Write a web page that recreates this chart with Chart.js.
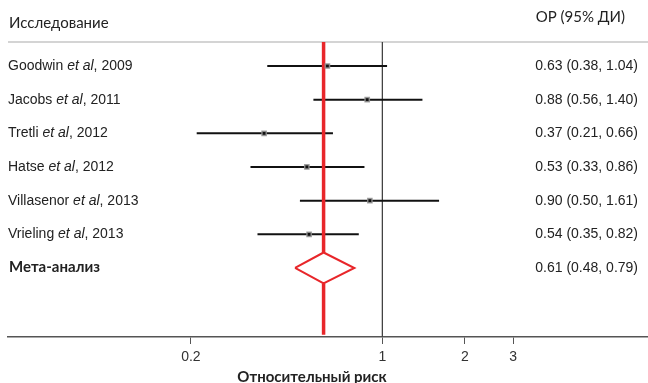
<!DOCTYPE html>
<html>
<head>
<meta charset="utf-8">
<script src="https://cdn.jsdelivr.net/npm/chart.js@4.4.1/dist/chart.umd.min.js"></script>
<style>
  html, body { margin: 0; padding: 0; background: #fff; }
  #wrap { width: 648px; height: 383px; position: relative; }
</style>
</head>
<body>
<div id="wrap"><canvas id="forest"></canvas></div>
<script>
// ================================
//          DATA
// ================================
const authors = ["Goodwin", "Jacobs", "Tretli", "Hatse", "Villasenor", "Vrieling"];
const years = [2009, 2011, 2012, 2012, 2013, 2013];
const rr = [0.63, 0.88, 0.37, 0.53, 0.90, 0.54];
const lower = [0.38, 0.56, 0.21, 0.33, 0.50, 0.35];
const upper = [1.04, 1.40, 0.66, 0.86, 1.61, 0.82];

const metaLabel = "Мета-анализ";
const metaRR = 0.61;
const metaLower = 0.48;
const metaUpper = 0.79;

const xTicks = [0.2, 1, 2, 3];

const headerLeft = "Исследование";
const headerRight = "ОР (95% ДИ)";
const xTitle = "Относительный риск";

// ================================
//          LAYOUT HELPERS
// ================================
const metaRow = authors.length;   // row index of the pooled estimate
const yTop = -0.713;
const yBottom = 8.05;
const diamondHalf = 0.46;
const red = "#e8262a";

const fmt = (v) => v.toFixed(2);

// CI lines, one dataset per study
const ciSets = authors.map((a, i) => ({
  type: "scatter",
  showLine: true,
  data: [{ x: lower[i], y: i }, { x: upper[i], y: i }],
  borderColor: "#111",
  borderWidth: 2,
  pointRadius: 0,
  order: 5,
}));

// ================================
//          TEXT PLUGIN
// ================================
const forestText = {
  id: "forestText",
  beforeDatasetsDraw(chart) {
    const { ctx, chartArea } = chart;
    ctx.save();
    ctx.strokeStyle = "#d4d4d4";
    ctx.lineWidth = 2;
    ctx.beginPath();
    ctx.moveTo(8, chartArea.top);
    ctx.lineTo(chart.width, chartArea.top);
    ctx.stroke();
    ctx.restore();
  },
  afterDraw(chart) {
    const { ctx } = chart;
    const y = chart.scales.y;
    ctx.save();
    ctx.fillStyle = "#222";
    ctx.textBaseline = "middle";

    // headers
    ctx.font = "15px Lato, 'Open Sans', sans-serif";
    ctx.textAlign = "left";
    ctx.fillText(headerLeft, 9, 23);
    ctx.textAlign = "right";
    ctx.fillText(headerRight, 625, 17);

    // study rows
    authors.forEach((a, i) => {
      const py = y.getPixelForValue(i);
      let px = 8;
      ctx.textAlign = "left";
      ctx.font = "14px 'Liberation Sans', Arial, sans-serif";
      ctx.fillText(a + " ", px, py);
      px += ctx.measureText(a + " ").width;
      ctx.font = "italic 14px 'Liberation Sans', Arial, sans-serif";
      ctx.fillText("et al", px, py);
      px += ctx.measureText("et al").width;
      ctx.font = "14px 'Liberation Sans', Arial, sans-serif";
      ctx.fillText(", " + years[i], px, py);

      ctx.textAlign = "right";
      ctx.fillText(fmt(rr[i]) + " (" + fmt(lower[i]) + ", " + fmt(upper[i]) + ")", 638, py);
    });

    // meta row
    const my = y.getPixelForValue(metaRow);
    ctx.textAlign = "left";
    ctx.font = "bold 15px Lato, 'Open Sans', sans-serif";
    ctx.fillText(metaLabel, 9, my - 1);
    ctx.textAlign = "right";
    ctx.font = "14px 'Liberation Sans', Arial, sans-serif";
    ctx.fillText(fmt(metaRR) + " (" + fmt(metaLower) + ", " + fmt(metaUpper) + ")", 638, my);

    // axis title
    ctx.textAlign = "center";
    ctx.font = "bold 15px Lato, 'Open Sans', sans-serif";
    ctx.fillText(xTitle, 312, 377);
    ctx.restore();
  },
};

// ================================
//          CHART
// ================================
new Chart(document.getElementById("forest"), {
  type: "scatter",
  data: {
    datasets: [
      // diamond
      {
        showLine: true,
        data: [
          { x: metaLower, y: metaRow },
          { x: metaRR, y: metaRow - diamondHalf },
          { x: metaUpper, y: metaRow },
          { x: metaRR, y: metaRow + diamondHalf },
          { x: metaLower, y: metaRow },
        ],
        borderColor: red,
        borderWidth: 2,
        pointRadius: 0,
        fill: false,
        order: 1,
      },
      // point estimates
      {
        data: rr.map((v, i) => ({ x: v, y: i })),
        pointStyle: "rect",
        pointRadius: 3,
        backgroundColor: "#111",
        borderColor: "rgba(150,150,150,0.85)",
        borderWidth: 1.5,
        order: 2,
      },
      // pooled estimate line (above and below the diamond)
      {
        showLine: true,
        data: [{ x: metaRR, y: yTop }, { x: metaRR, y: metaRow - diamondHalf }],
        borderColor: red,
        borderWidth: 3.5,
        pointRadius: 0,
        order: 3,
      },
      {
        showLine: true,
        data: [{ x: metaRR, y: metaRow + diamondHalf }, { x: metaRR, y: 7.98 }],
        borderColor: red,
        borderWidth: 3.5,
        pointRadius: 0,
        order: 3,
      },
      ...ciSets,
      // no-effect line
      {
        showLine: true,
        data: [{ x: 1, y: yTop }, { x: 1, y: yBottom }],
        borderColor: "#444",
        borderWidth: 1,
        pointRadius: 0,
        order: 9,
      },
    ],
  },
  options: {
    responsive: true,
    maintainAspectRatio: false,
    animation: false,
    layout: {
      autoPadding: false,
      padding: { left: 8, right: 0, top: 42, bottom: 0 },
    },
    plugins: {
      legend: { display: false },
      tooltip: { enabled: false },
    },
    scales: {
      x: {
        type: "logarithmic",
        min: 0.043,
        max: 9.32,
        afterBuildTicks: (scale) => {
          scale.ticks = xTicks.map((v) => ({ value: v }));
        },
        afterFit: (scale) => {
          scale.height = 46;
          scale.paddingLeft = 0;
          scale.paddingRight = 0;
        },
        ticks: {
          autoSkip: false,
          maxRotation: 0,
          padding: 5,
          color: "#333",
          font: { family: "'Liberation Sans', Arial, sans-serif", size: 14 },
          callback: (value) => String(value),
        },
        grid: {
          drawOnChartArea: false,
          drawTicks: true,
          tickLength: 7,
          color: "#555",
          lineWidth: 1,
        },
        border: { display: true, color: "#555", width: 1.5 },
      },
      y: {
        type: "linear",
        display: false,
        reverse: true,
        min: yTop,
        max: yBottom,
      },
    },
  },
  plugins: [forestText],
});
</script>
</body>
</html>
